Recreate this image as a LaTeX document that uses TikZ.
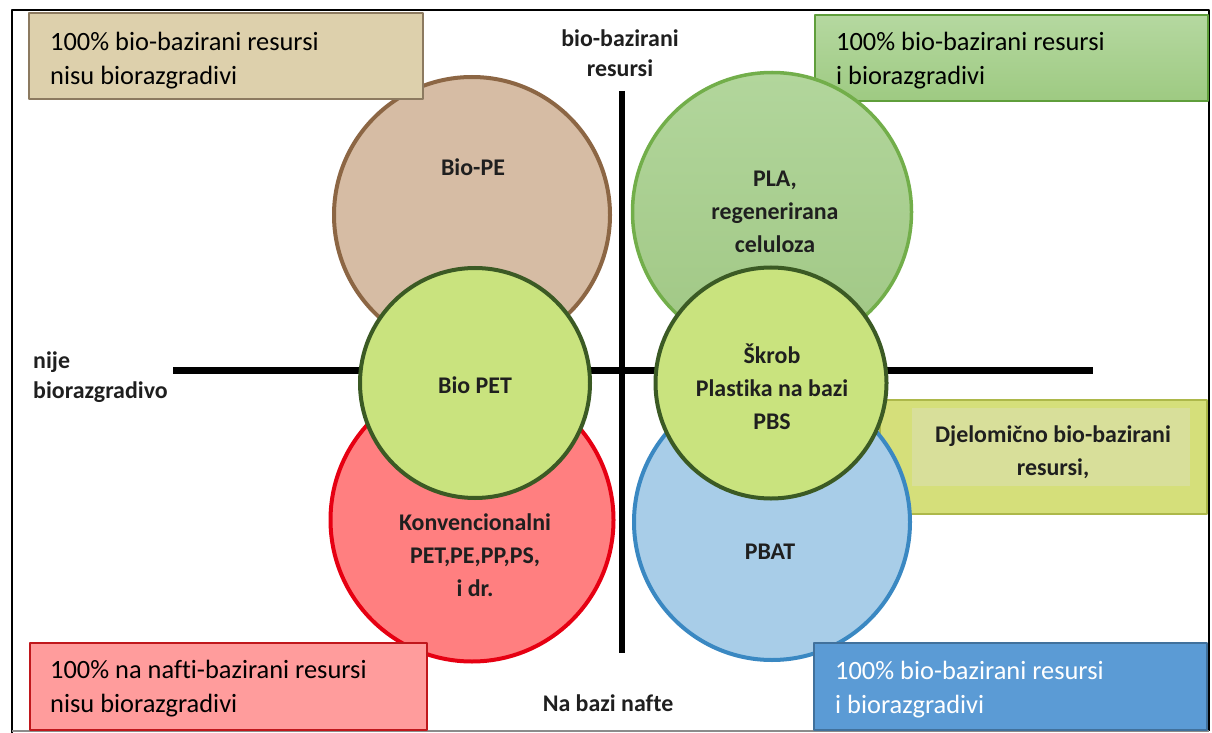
\documentclass[tikz,border=0pt]{standalone}
\usepackage{fontspec}
\setmainfont{Carlito}[Ligatures=NoCommon]
\usetikzlibrary{positioning}
\definecolor{pef}{HTML}{D6BCA4}\definecolor{peb}{HTML}{8C6644}
\definecolor{plat}{HTML}{B2D69C}\definecolor{plad}{HTML}{A0C784}\definecolor{plab}{HTML}{72AE4A}
\definecolor{redf}{HTML}{FF7F80}\definecolor{redb}{HTML}{E60012}
\definecolor{bluf}{HTML}{A8CDE8}\definecolor{blub}{HTML}{3A88C2}
\definecolor{sgf}{HTML}{C9E37E}\definecolor{sgb}{HTML}{3B5A24}
\definecolor{tlf}{HTML}{DDD0AC}\definecolor{tlb}{HTML}{8C7A60}
\definecolor{trt}{HTML}{B5D8A0}\definecolor{trd}{HTML}{9ECA82}\definecolor{trb}{HTML}{5F9E3B}
\definecolor{blf}{HTML}{FF9C9C}\definecolor{blb}{HTML}{C0171C}
\definecolor{brf}{HTML}{5B9BD5}\definecolor{brb}{HTML}{41719C}
\definecolor{djf}{HTML}{D5DF7A}\definecolor{djin}{HTML}{D8DF9A}\definecolor{djb}{HTML}{ADB84A}
\begin{document}
\begin{tikzpicture}[x=1bp, y=-1bp, line join=round,
	krug/.style={circle, inner sep=0pt, outer sep=0pt, line width=4bp},
	okvir/.style={rectangle, inner sep=0pt, outer sep=0pt, line width=2.5bp, anchor=north west},
	lbl/.style={font=\fontsize{24}{33}\selectfont\bfseries, align=center, text=black!88, inner sep=0pt},
	osi/.style={lbl, font=\fontsize{24}{30}\selectfont\bfseries},
	btxt/.style={font=\fontsize{26.5}{34}\selectfont, align=left, anchor=west, inner sep=0pt}]
	\useasboundingbox (0,0) rectangle (1212,733);
	% okvir slike
	\draw[line width=2bp] (12,733) -- (12,10) -- (1209,10) -- (1209,731);
	\draw[line width=1.5bp, black!45] (12,731) -- (1209,731);
	% kutije ispod krugova
	\node[okvir, draw=djb, fill=djf, minimum width=327bp, minimum height=114bp] (djbox) at (880,400) {};
	\fill[djin] (912,408) rectangle (1190,486);
	\node[okvir, draw=trb, top color=trt, bottom color=trd, minimum width=393bp, minimum height=86bp] (trbox) at (815,15) {};
	% osi
	\coordinate (xl) at (173,370); \coordinate (xr) at (1093,370);
	\coordinate (yt) at (622,91); \coordinate (yb) at (622,653);
	\draw[line width=7bp] (xl) -- (xr);
	\draw[line width=6bp] (yt) -- (yb);
	% krugovi
	\node[krug, draw=peb, fill=pef, minimum size=276bp] (biope) at (472,215) {};
	\node[krug, draw=plab, top color=plat, bottom color=plad, line width=3.5bp, minimum size=279bp] (pla) at (772,212) {};
	\node[krug, draw=redb, fill=redf, minimum size=283bp] (konv) at (472,520) {};
	\node[krug, draw=blub, fill=bluf, minimum size=276bp] (pbat) at (772,522) {};
	\node[krug, draw=sgb, fill=sgf, minimum size=230bp] (biopet) at (475,383) {};
	\node[krug, draw=sgb, fill=sgf, minimum size=231bp] (skrob) at (771,383) {};
	% kutije iznad krugova
	\node[okvir, draw=tlb, fill=tlf, minimum width=394bp, minimum height=86bp] (tlbox) at (29,13) {};
	\node[okvir, draw=blb, fill=blf, minimum width=397bp, minimum height=87bp] (blbox) at (30,643) {};
	\node[okvir, draw=brb, fill=brf, minimum width=393bp, minimum height=87bp] (brbox) at (814,643) {};
	% tekstovi
	\node[btxt] (tltxt) at (50,61) {100\% bio-bazirani resursi\\nisu biorazgradivi};
	\node[btxt] (trtxt) at (836,61) {100\% bio-bazirani resursi\\i biorazgradivi};
	\node[btxt] (bltxt) at (50,689) {100\% na nafti-bazirani resursi\\nisu biorazgradivi};
	\node[btxt, text=white] (brtxt) at (835,690) {100\% bio-bazirani resursi\\i biorazgradivi};
	\node[osi] (tbio) at (620,53) {bio-bazirani\\resursi};
	\node[osi, align=left, anchor=west] (nije) at (33,377) {nije\\biorazgradivo};
	\node[lbl] (nafta) at (608,703) {Na bazi nafte};
	\node[lbl] (tbiope) at (473,167) {Bio-PE};
	\node[lbl] (tpla) at (775,212) {PLA,\\regenerirana\\celuloza};
	\node[lbl] (tbiopet) at (475,385) {Bio PET};
	\node[lbl] (tskrob) at (772,387) {Škrob\\Plastika na bazi\\PBS};
	\node[lbl] (tkonv) at (475,555) {Konvencionalni\\PET,PE,PP,PS,\\i dr.};
	\node[lbl] (tpbat) at (770,552) {PBAT};
	\node[lbl] (tdj) at (1053,452) {Djelomično bio-bazirani\\resursi,};
\end{tikzpicture}
\end{document}
